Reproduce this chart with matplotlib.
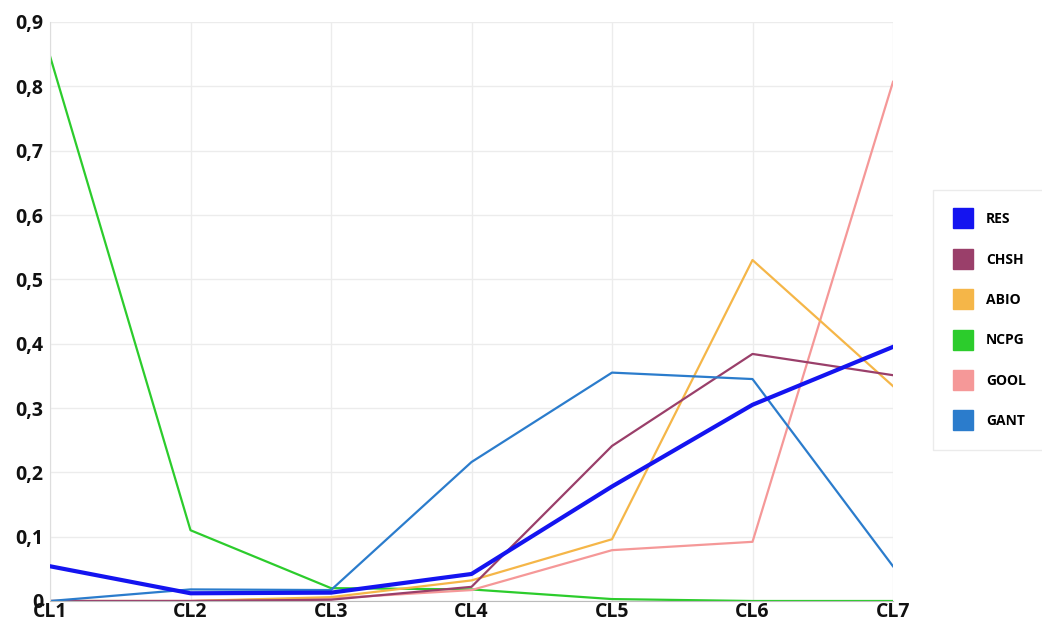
import matplotlib
matplotlib.use("Agg")
import matplotlib.pyplot as plt
from matplotlib.lines import Line2D
from matplotlib.ticker import FuncFormatter

CATEGORIES = ["CL1", "CL2", "CL3", "CL4", "CL5", "CL6", "CL7"]

RES = [0.054, 0.012, 0.013, 0.042, 0.178, 0.305, 0.395]
CHSH = [0.0, 0.0, 0.002, 0.022, 0.241, 0.384, 0.351]
ABIO = [0.0, 0.0, 0.006, 0.032, 0.096, 0.530, 0.334]
NCPG = [0.847, 0.110, 0.020, 0.018, 0.003, 0.0, 0.0]
GOOL = [0.0, 0.0, 0.004, 0.017, 0.079, 0.092, 0.807]
GANT = [0.0, 0.018, 0.017, 0.216, 0.355, 0.345, 0.054]

SERIES = [
    ("RES", RES, "#1414f0", 3.0),
    ("CHSH", CHSH, "#9a3f6a", 1.6),
    ("ABIO", ABIO, "#f5b648", 1.6),
    ("NCPG", NCPG, "#2ccc2c", 1.6),
    ("GOOL", GOOL, "#f59898", 1.6),
    ("GANT", GANT, "#2b7ccc", 1.6),
]
DRAW_ORDER = ["NCPG", "GOOL", "ABIO", "CHSH", "GANT", "RES"]

plt.rcParams["font.family"] = ["Open Sans", "DejaVu Sans"]

fig = plt.figure(figsize=(10.42, 6.3), dpi=100)
ax = fig.add_axes([50 / 1042, 1 - 601 / 630, (893 - 50) / 1042, (601 - 22) / 630])

x = list(range(len(CATEGORIES)))
by_name = {s[0]: s for s in SERIES}
for name in DRAW_ORDER:
    _, vals, color, lw = by_name[name]
    ax.plot(x, vals, color=color, linewidth=lw, zorder=3 if name == "RES" else 2)

ax.set_xlim(0, len(CATEGORIES) - 1)
ax.set_ylim(0, 0.9)
ax.set_xticks(x)
ax.set_xticklabels(CATEGORIES)
ax.set_yticks([i / 10 for i in range(10)])
ax.yaxis.set_major_formatter(FuncFormatter(lambda v, _: "0" if v == 0 else f"{v:.1f}".replace(".", ",")))

for lbl in ax.get_xticklabels() + ax.get_yticklabels():
    lbl.set_fontweight("bold")
    lbl.set_fontsize(14)
    lbl.set_color("#111111")

ax.tick_params(axis="both", length=0)
ax.tick_params(axis="x", pad=1)
ax.tick_params(axis="y", pad=5)
ax.grid(True, color="#ececec", linewidth=1)
for side in ["top", "right"]:
    ax.spines[side].set_visible(False)
ax.spines["left"].set_color("#dddddd")
ax.spines["bottom"].set_color("#bbbbbb")

handles = [
    Line2D([], [], linestyle="none", marker="s", markersize=14, markerfacecolor=c, markeredgecolor=c)
    for _, _, c, _ in SERIES
]
leg = fig.legend(
    handles, [s[0] for s in SERIES],
    loc="upper left", bbox_to_anchor=(933 / 1042, 1 - 190 / 630),
    frameon=True, fancybox=False, edgecolor="#e6e6e6",
    prop={"weight": "bold", "size": 10},
    labelspacing=1.9, handletextpad=1.1, borderpad=1.6, borderaxespad=0,
    handlelength=1.1,
)
leg.get_frame().set_linewidth(1)

fig.savefig("out.png", dpi=100)
